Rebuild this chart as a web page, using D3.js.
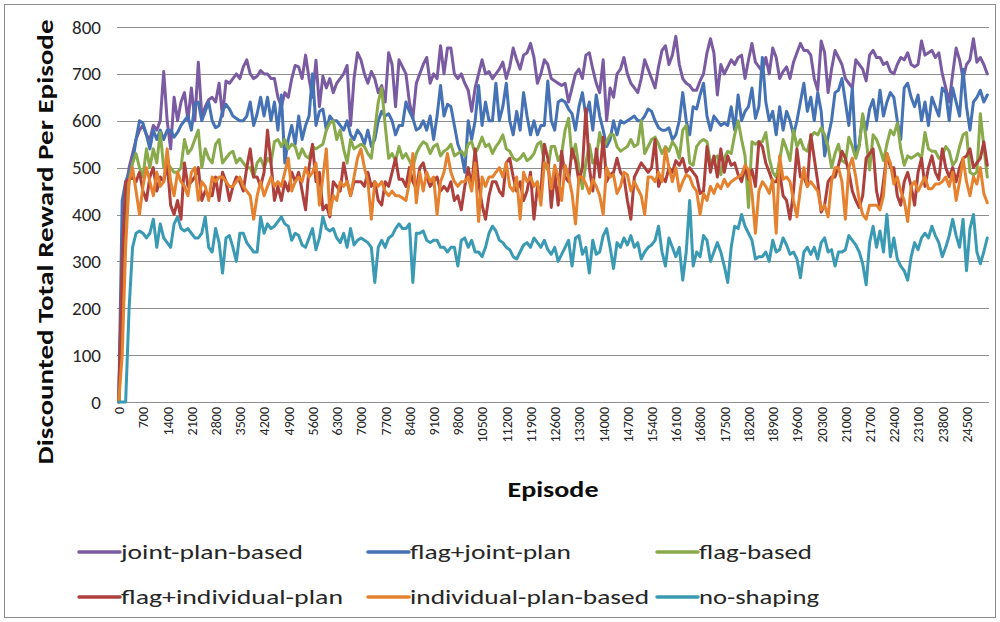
<!DOCTYPE html>
<html>
<head>
<meta charset="utf-8">
<script src="https://cdn.jsdelivr.net/npm/d3@7"></script>
<style>
  html, body { margin: 0; padding: 0; background: #ffffff; }
  svg { display: block; font-family: Carlito, Calibri, Lato, "Open Sans", sans-serif; }
</style>
</head>
<body>
<svg id="chart" width="1000" height="622"></svg>
<script>
// Series names, in drawing order (later series sit on top)
const seriesNames = ["joint-plan-based", "flag+joint-plan", "flag-based",
                     "flag+individual-plan", "individual-plan-based", "no-shaping"];
const seriesColors = ["#7a5ba2", "#4472b4", "#88aa4a", "#ad403c", "#e5822f", "#3b9ab3"];

// Discounted total reward per episode, one value every 100 episodes (0 .. 25100)
const jointPlanBased = [
  0,300,450,500,530,560,580,590,570,560,590,580,600,705,600,540,650,600,640,660,
  600,670,600,725,610,630,645,650,640,680,610,685,680,690,700,690,715,730,700,690,
  695,707,700,700,690,690,650,630,660,650,690,718,715,690,740,690,650,729,630,695,
  670,690,660,680,690,700,718,590,690,745,730,700,680,705,690,660,675,640,745,720,
  630,730,715,700,640,605,680,700,720,735,680,700,690,760,700,755,755,700,690,700,
  680,665,620,670,700,730,700,705,690,700,710,725,690,715,755,730,710,740,745,765,
  735,680,700,730,720,690,685,680,675,680,640,670,700,710,690,740,745,710,680,660,
  730,600,670,650,700,710,735,700,680,670,660,690,730,710,690,670,715,750,760,720,
  740,780,720,690,680,675,665,665,685,700,745,775,745,655,720,700,715,730,720,735,
  740,690,730,765,725,715,705,735,700,755,735,690,705,715,690,725,745,765,750,750,
  740,690,665,770,745,660,710,750,735,720,690,680,670,730,720,710,685,740,750,735,
  735,720,725,705,700,720,735,730,745,720,715,720,770,740,745,750,735,745,700,670,
  640,700,755,730,690,720,730,775,725,735,720,700
];
const flagJointPlan = [
  0,430,470,490,510,560,600,595,570,540,580,560,580,560,580,580,565,575,590,600,
  610,580,635,640,600,620,640,600,585,590,620,635,625,610,605,600,600,610,640,590,
  615,650,610,650,600,640,580,655,510,560,590,550,610,560,590,610,700,590,620,625,
  580,610,600,600,590,580,600,570,560,580,570,550,580,545,560,600,620,610,615,600,
  570,590,590,640,620,605,580,585,600,580,610,560,610,675,610,635,630,590,550,530,
  490,600,560,600,675,590,640,600,600,680,600,630,680,600,570,620,580,660,610,570,
  600,570,590,590,685,600,580,640,645,640,625,615,580,630,660,610,640,580,655,610,
  580,545,560,600,570,600,595,600,605,610,600,600,610,625,620,600,585,580,580,585,
  560,570,600,660,600,570,630,625,655,680,610,580,610,600,590,595,590,630,580,655,
  600,620,630,670,605,630,735,640,600,620,570,630,580,620,600,570,600,640,680,620,
  650,600,660,620,525,565,600,660,665,690,640,590,670,530,550,610,580,625,645,600,
  665,610,640,660,650,600,560,670,680,650,630,655,600,640,590,650,630,610,670,660,
  600,670,640,610,710,630,580,640,650,665,640,655
];
const flagBased = [
  0,150,420,470,510,530,500,480,540,500,540,510,575,500,510,500,490,490,500,560,
  530,540,560,580,500,540,520,510,550,560,510,520,530,535,510,520,510,500,500,480,
  510,520,500,520,510,555,560,545,560,540,550,545,520,540,525,520,545,540,545,550,
  580,595,600,560,580,540,510,560,540,545,550,545,530,520,580,640,670,590,520,530,
  515,545,520,530,515,500,530,545,555,550,530,545,550,525,535,540,550,525,530,535,
  525,550,555,530,545,565,545,550,530,545,555,570,540,535,520,515,520,530,515,520,
  530,550,555,510,495,545,545,515,530,580,605,520,550,500,455,510,550,510,520,575,
  540,555,570,570,545,535,540,545,560,545,550,600,530,545,560,565,550,530,545,535,
  555,545,520,580,590,510,505,545,555,560,555,510,520,525,485,520,535,530,570,600,
  560,525,415,555,550,555,555,575,520,490,480,515,560,540,515,580,545,560,540,535,
  565,575,570,585,570,545,500,530,550,515,510,565,545,520,545,615,560,495,570,560,
  540,515,550,580,570,595,540,505,525,520,525,530,520,575,540,535,535,520,525,545,
  535,505,515,545,570,575,490,485,490,615,545,480
];
const flagIndividualPlan = [
  0,300,470,475,480,470,490,450,430,480,500,450,480,470,510,420,400,430,390,510,
  460,470,480,500,430,450,440,440,480,430,490,470,430,460,480,470,450,500,540,480,
  480,460,490,580,510,430,460,430,470,450,490,470,490,450,410,500,550,470,490,410,
  420,395,470,460,450,510,470,440,470,470,470,460,490,460,470,430,420,470,460,490,
  520,475,475,460,500,470,455,500,510,480,460,470,480,450,460,450,470,430,440,410,
  460,500,460,540,470,420,390,440,470,470,450,440,510,520,480,450,470,430,450,490,
  390,460,450,550,520,415,490,420,535,480,470,540,515,470,500,625,500,450,540,480,
  565,470,485,490,520,490,480,430,390,480,495,510,500,490,500,560,460,480,470,500,
  490,515,505,520,490,500,490,480,445,450,545,490,525,480,540,490,525,505,510,485,
  470,500,475,495,460,555,545,510,490,470,470,490,440,430,390,450,540,480,480,460,
  570,520,470,405,420,470,480,480,505,535,520,490,450,430,415,440,520,530,540,450,
  415,470,530,500,500,440,420,470,490,460,420,490,520,460,500,525,490,475,540,500,
  480,500,470,500,520,525,540,500,510,520,555,505
];
const individualPlanBased = [
  0,100,330,470,500,450,400,460,500,470,440,490,460,470,540,470,440,490,470,460,
  440,490,500,430,470,460,430,480,470,480,480,470,460,460,470,480,460,450,440,390,
  440,470,440,460,480,460,470,460,490,520,450,470,480,470,500,480,490,510,420,480,
  540,400,440,430,470,460,470,440,480,520,540,500,470,390,470,460,470,450,440,450,
  440,440,435,430,470,530,425,490,450,490,470,480,400,470,490,530,490,470,460,470,
  470,480,450,510,385,480,460,480,480,490,500,480,510,460,450,480,390,490,470,480,
  460,470,420,510,505,455,505,480,430,505,480,445,380,480,480,465,445,475,460,440,
  400,500,480,485,445,460,490,485,450,470,455,440,400,480,480,470,490,470,540,500,
  470,500,450,470,485,480,460,450,400,445,430,460,445,465,455,475,460,470,475,480,
  485,505,495,445,360,450,470,460,445,475,360,525,475,480,470,430,395,455,500,460,
  470,460,450,410,420,395,470,500,500,470,390,500,520,480,430,400,390,420,420,420,
  410,440,530,510,465,480,450,430,385,460,470,450,465,480,455,455,465,465,470,480,
  460,490,430,470,520,470,440,480,465,500,445,425
];
const noShaping = [
  0,0,0,200,330,360,365,360,350,360,390,330,380,350,340,330,380,395,370,365,
  370,360,350,350,360,395,330,320,370,340,275,350,355,330,300,360,360,340,330,320,
  320,395,360,380,370,375,385,395,380,375,345,360,355,335,330,350,370,325,350,395,
  370,365,370,350,340,360,330,370,335,345,350,345,340,330,255,330,345,330,350,355,
  370,380,370,370,380,255,360,360,365,345,340,345,345,330,330,320,330,330,290,345,
  350,330,345,320,320,310,330,360,375,365,345,340,330,325,310,305,320,335,340,330,
  350,340,330,345,325,315,330,300,315,330,345,290,350,355,315,330,275,345,315,320,
  355,370,330,285,340,330,350,335,355,330,340,305,320,330,335,345,375,320,290,350,
  330,310,330,260,320,430,290,320,310,355,345,300,320,340,320,290,255,330,375,370,
  400,375,360,345,305,310,310,320,300,345,320,325,350,335,315,320,305,265,320,330,
  315,330,305,340,350,320,325,290,320,320,325,355,345,335,320,295,250,340,375,330,
  365,320,400,310,350,305,290,280,260,310,340,325,350,360,350,375,355,340,310,330,
  355,390,355,330,390,280,370,400,320,295,320,350
];
const seriesValues = [jointPlanBased, flagJointPlan, flagBased,
                      flagIndividualPlan, individualPlanBased, noShaping];

// Axis ticks
const yTickValues = [0, 100, 200, 300, 400, 500, 600, 700, 800];
const xTickLabels = ["0","700","1400","2100","2800","3500","4200","4900","5600","6300",
  "7000","7700","8400","9100","9800","10500","11200","11900","12600","13300","14000",
  "14700","15400","16100","16800","17500","18200","18900","19600","20300","21000",
  "21700","22400","23100","23800","24500"];
const xLabelEvery = 7;

// Layout
const W = 1000, H = 622;
const plot = { left: 117, right: 989, top: 27, bottom: 402 };
const nPoints = jointPlanBased.length;

const svg = d3.select("#chart");

// Chart frame
svg.append("rect")
  .attr("x", 4.5).attr("y", 4.5)
  .attr("width", W - 9).attr("height", H - 9)
  .attr("fill", "#ffffff").attr("stroke", "#8c8c8c").attr("stroke-width", 1);

const x = d3.scaleLinear().domain([-0.5, nPoints - 0.5]).range([plot.left, plot.right]);
const y = d3.scaleLinear().domain([0, 800]).range([plot.bottom, plot.top]);

// Horizontal gridlines
svg.append("g").selectAll("line")
  .data(yTickValues).join("line")
  .attr("x1", plot.left).attr("x2", plot.right)
  .attr("y1", d => Math.round(y(d)) + 0.5).attr("y2", d => Math.round(y(d)) + 0.5)
  .attr("stroke", "#8e8e8e").attr("stroke-width", 1);

// Y axis tick labels
const yAxis = d3.axisLeft(y).tickValues(yTickValues).tickSize(0).tickPadding(0);
const gy = svg.append("g").attr("transform", `translate(${plot.left - 16},0)`).call(yAxis);
gy.select(".domain").remove();
gy.selectAll("text")
  .attr("font-size", 19).attr("fill", "#262626")
  .style("font-family", "Carlito, Calibri, Lato, sans-serif");

// X axis tick labels (category axis, every 7th category labelled, rotated)
const xTickIdx = xTickLabels.map((_, k) => k * xLabelEvery);
const xAxis = d3.axisBottom(x).tickValues(xTickIdx)
  .tickFormat((d, k) => xTickLabels[k]).tickSize(0).tickPadding(0);
const gx = svg.append("g").attr("transform", `translate(0,${plot.bottom})`).call(xAxis);
gx.select(".domain").remove();
gx.selectAll("text")
  .attr("font-size", 14).attr("fill", "#262626")
  .style("font-family", "Carlito, Calibri, Lato, sans-serif")
  .attr("text-anchor", "end")
  .attr("dy", "0.35em")
  .attr("transform", "translate(0,5) rotate(-90)")
  .attr("x", 0).attr("y", 0);

// Series lines
const line = d3.line()
  .x((d, i) => x(i))
  .y(d => y(d));

svg.append("g").selectAll("path")
  .data(seriesValues).join("path")
  .attr("d", d => line(d))
  .attr("fill", "none")
  .attr("stroke", (d, i) => seriesColors[i])
  .attr("stroke-width", 3)
  .attr("stroke-linejoin", "round")
  .attr("stroke-linecap", "round");

// Axis titles
svg.append("text")
  .attr("transform", "translate(45,242) rotate(-90)")
  .attr("text-anchor", "middle").attr("dominant-baseline", "central")
  .attr("font-size", 23).attr("font-weight", "bold").attr("fill", "#0d0d0d")
  .attr("textLength", 445).attr("lengthAdjust", "spacingAndGlyphs")
  .text("Discounted Total Reward Per Episode");

svg.append("text")
  .attr("x", 553).attr("y", 489)
  .attr("text-anchor", "middle").attr("dominant-baseline", "central")
  .attr("font-size", 23).attr("font-weight", "bold").attr("fill", "#0d0d0d")
  .attr("textLength", 91).attr("lengthAdjust", "spacingAndGlyphs")
  .text("Episode");

// Legend: three columns, two rows
const legendCols = [79, 368, 657];
const legendRows = [552, 597];
const legendTextWidths = [182, 161, 113, 222, 239, 120];
const legend = svg.append("g").selectAll("g")
  .data(seriesNames).join("g")
  .attr("transform", (d, i) => `translate(${legendCols[i % 3]},${legendRows[Math.floor(i / 3)]})`);
legend.append("line")
  .attr("x1", 0).attr("x2", 41).attr("y1", 0).attr("y2", 0)
  .attr("stroke", (d, i) => seriesColors[i])
  .attr("stroke-width", 3.5).attr("stroke-linecap", "round");
legend.append("text")
  .attr("x", 42).attr("y", 0)
  .attr("dominant-baseline", "central")
  .attr("font-size", 21).attr("fill", "#262626")
  .attr("textLength", (d, i) => legendTextWidths[i]).attr("lengthAdjust", "spacingAndGlyphs")
  .text(d => d);
</script>
</body>
</html>
